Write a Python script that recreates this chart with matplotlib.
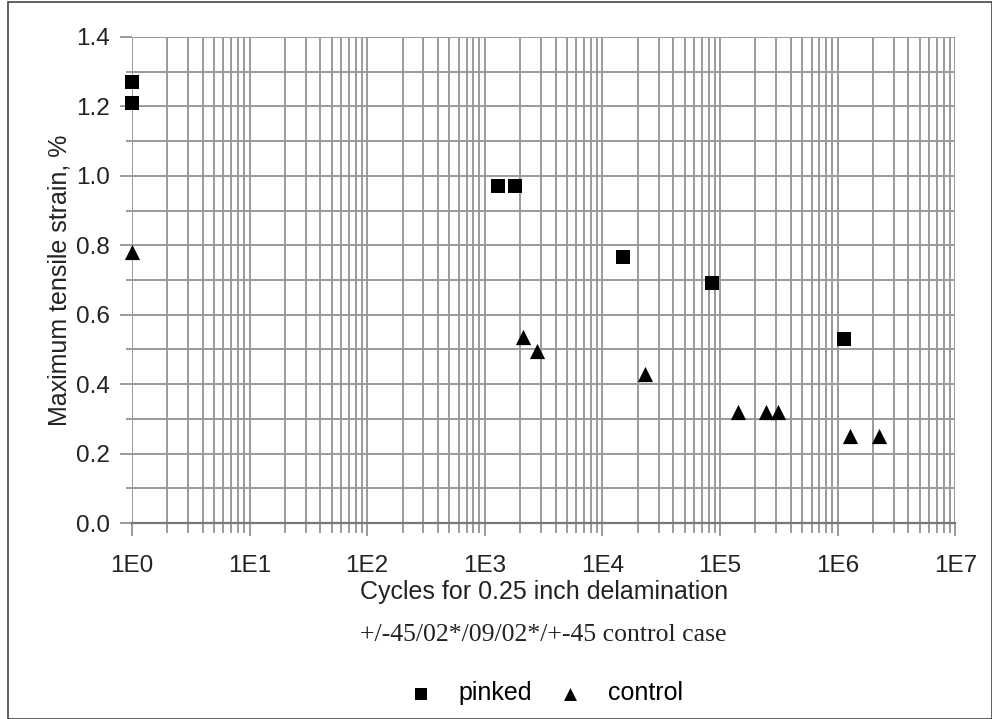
import matplotlib.pyplot as plt
from matplotlib.ticker import LogLocator, MultipleLocator, FixedFormatter, FixedLocator
from matplotlib.patches import Rectangle

# data
pinked_cycles = [1, 1, 1300, 1800, 15000, 85000, 1130000]
pinked_strain = [1.27, 1.21, 0.97, 0.97, 0.765, 0.69, 0.53]

control_cycles = [1, 2100, 2800, 23000, 142000, 246000, 310000, 1270000, 2240000]
control_strain = [0.78, 0.535, 0.495, 0.43, 0.32, 0.32, 0.32, 0.25, 0.25]

x_ticks = [1, 1e1, 1e2, 1e3, 1e4, 1e5, 1e6, 1e7]
x_labels = ["1E0", "1E1", "1E2", "1E3", "1E4", "1E5", "1E6", "1E7"]

sans = "Liberation Sans"
serif = "Liberation Serif"
txt_col = "#222222"
grid_col = "#9a9a9a"

fig = plt.figure(figsize=(9.92, 7.19), dpi=100)
ax = fig.add_axes([0.133, 0.2726, 0.830, 0.676])

ax.scatter(pinked_cycles, pinked_strain, marker="s", s=105, color="black",
           label="pinked", clip_on=False, zorder=5, linewidths=0)
ax.scatter(control_cycles, control_strain, marker="^", s=120, color="black",
           label="control", clip_on=False, zorder=5, linewidths=0)

ax.set_xscale("log")
ax.set_xlim(1, 1e7)
ax.set_ylim(0, 1.4)

ax.xaxis.set_major_locator(FixedLocator(x_ticks))
ax.xaxis.set_major_formatter(FixedFormatter(x_labels))
ax.xaxis.set_minor_locator(LogLocator(base=10, subs=range(2, 10), numticks=20))
ax.yaxis.set_major_locator(MultipleLocator(0.2))
ax.yaxis.set_minor_locator(MultipleLocator(0.1))
ax.yaxis.set_major_formatter(plt.FuncFormatter(lambda v, p: f"{v:.1f}"))

ax.grid(True, which="both", color=grid_col, linewidth=1.4)
ax.set_axisbelow(True)

for s in ["top", "right", "left"]:
    ax.spines[s].set_visible(False)
ax.spines["bottom"].set_color("#777777")
ax.spines["bottom"].set_linewidth(1.6)

ax.tick_params(axis="both", which="major", direction="out", color=grid_col,
               width=1.4, labelsize=17.5, length=9, pad=7)
ax.tick_params(axis="x", which="minor", direction="out", color=grid_col,
               width=1.4, length=7)
ax.tick_params(axis="y", which="minor", direction="out", color=grid_col,
               width=1.4, length=4)
ax.tick_params(axis="x", which="major", pad=14)
for lbl in ax.get_xticklabels() + ax.get_yticklabels():
    lbl.set_fontfamily(sans)
    lbl.set_color(txt_col)

ax.set_ylabel("Maximum tensile strain, %", fontsize=18, family=sans,
              color=txt_col, labelpad=3)
ax.set_xlabel("Cycles for 0.25 inch delamination", fontsize=18, family=sans,
              color=txt_col, labelpad=2)

fig.text(0.548, 0.117, "+/-45/02*/09/02*/+-45 control case", ha="center",
         va="center", fontsize=18.5, family=serif, color=txt_col)

leg = fig.legend(loc="center", bbox_to_anchor=(0.550, 0.036), ncol=2,
                 frameon=False, prop={"family": sans, "size": 18},
                 handlelength=1.0, handletextpad=1.0, columnspacing=1.05,
                 markerscale=0.85)

fig.patches.append(Rectangle((0.008, 0.0), 0.992, 0.997, transform=fig.transFigure,
                             fill=False, edgecolor="#444444", linewidth=1.2))

fig.savefig("out.png", dpi=100)
